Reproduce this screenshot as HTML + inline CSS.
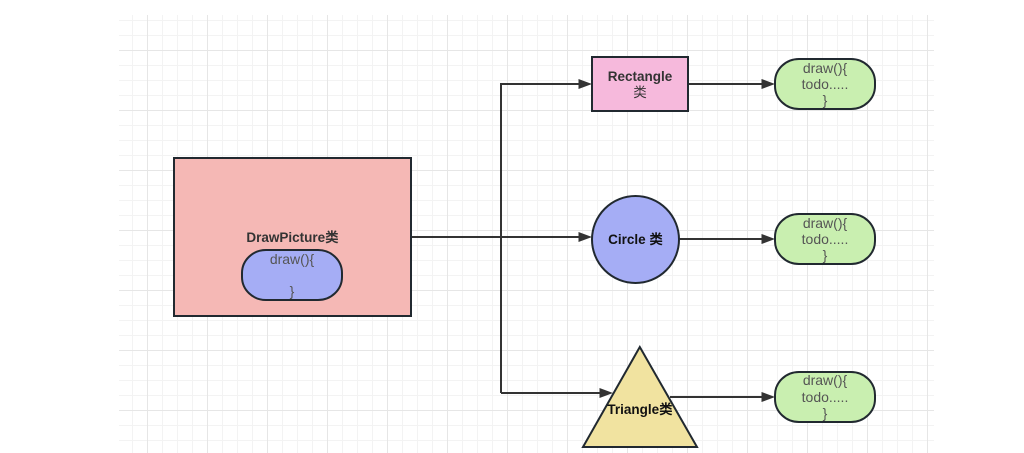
<!DOCTYPE html>
<html>
<head>
<meta charset="utf-8">
<style>
html,body{margin:0;padding:0;background:#fff;width:1024px;height:453px;overflow:hidden}
svg{display:block}
text{font-family:"Liberation Sans","Noto Sans CJK SC",sans-serif;text-anchor:middle}
.b{font-weight:bold;font-size:13.5px;fill:#333}
.t{font-size:14px;fill:#555}
</style>
</head>
<body>
<svg width="1024" height="453" viewBox="0 0 1024 453" xmlns="http://www.w3.org/2000/svg">
<defs>
<pattern id="minor" x="0" y="0" width="15" height="15" patternUnits="userSpaceOnUse" patternTransform="translate(132 5)">
<path d="M.5 0V15M0 .5H15" stroke="#f3f3f3" stroke-width="1" fill="none"/>
</pattern>
<pattern id="major" x="0" y="0" width="60" height="60" patternUnits="userSpaceOnUse" patternTransform="translate(147 50)">
<path d="M.5 0V60M0 .5H60" stroke="#e6e6e6" stroke-width="1" fill="none"/>
</pattern>
</defs>
<rect x="119" y="15" width="815" height="438" fill="url(#minor)"/>
<rect x="119" y="15" width="815" height="438" fill="url(#major)"/>

<g fill="none" stroke="#333" stroke-width="2">
<path d="M411 237H580"/>
<path d="M501 393V84H580"/>
<path d="M501 393H601"/>
<path d="M689 84H762"/>
<path d="M679 239H762"/>
<path d="M670 397H762"/>
</g>
<g fill="#333">
<path d="M592 237L578.500 232V242Z"/>
<path d="M592 84L578.500 79V89Z"/>
<path d="M613 393L599.500 388V398Z"/>
<path d="M775 84L761.500 79V89Z"/>
<path d="M775 239L761.500 234V244Z"/>
<path d="M775 397L761.500 392V402Z"/>
</g>

<g stroke="#212930" stroke-width="2">
<rect x="174" y="158" width="237" height="158" fill="#f5b8b5"/>
<rect x="242" y="250" width="100" height="50" rx="24" ry="23" fill="#a5adf5"/>
<rect x="592" y="57" width="96" height="54" fill="#f6b9dc"/>
<circle cx="635.500" cy="239.500" r="43.500" fill="#a5adf5"/>
<path d="M639.800 347L697 447H583Z" fill="#f1e3a0" stroke-linejoin="miter"/>
<rect x="775" y="59" width="100" height="50" rx="24" ry="23" fill="#c9efb0"/>
<rect x="775" y="214" width="100" height="50" rx="24" ry="23" fill="#c9efb0"/>
<rect x="775" y="372" width="100" height="50" rx="24" ry="23" fill="#c9efb0"/>
</g>

<text class="b" x="292.500" y="242">DrawPicture类</text>
<text class="t" x="292" y="264">draw(){</text>
<text class="t" x="292" y="296">}</text>

<text class="b" x="640" y="81">Rectangle</text>
<text class="b" x="640" y="97" style="font-weight:normal">类</text>
<text class="b" x="635.500" y="244" style="fill:#111">Circle 类</text>
<text class="b" x="640" y="414" style="fill:#111">Triangle类</text>

<text class="t" x="825" y="73">draw(){</text>
<text class="t" x="825" y="89">todo.....</text>
<text class="t" x="825" y="105">}</text>

<text class="t" x="825" y="228">draw(){</text>
<text class="t" x="825" y="244">todo.....</text>
<text class="t" x="825" y="260">}</text>

<text class="t" x="825" y="385">draw(){</text>
<text class="t" x="825" y="402">todo.....</text>
<text class="t" x="825" y="418">}</text>
</svg>
</body>
</html>
